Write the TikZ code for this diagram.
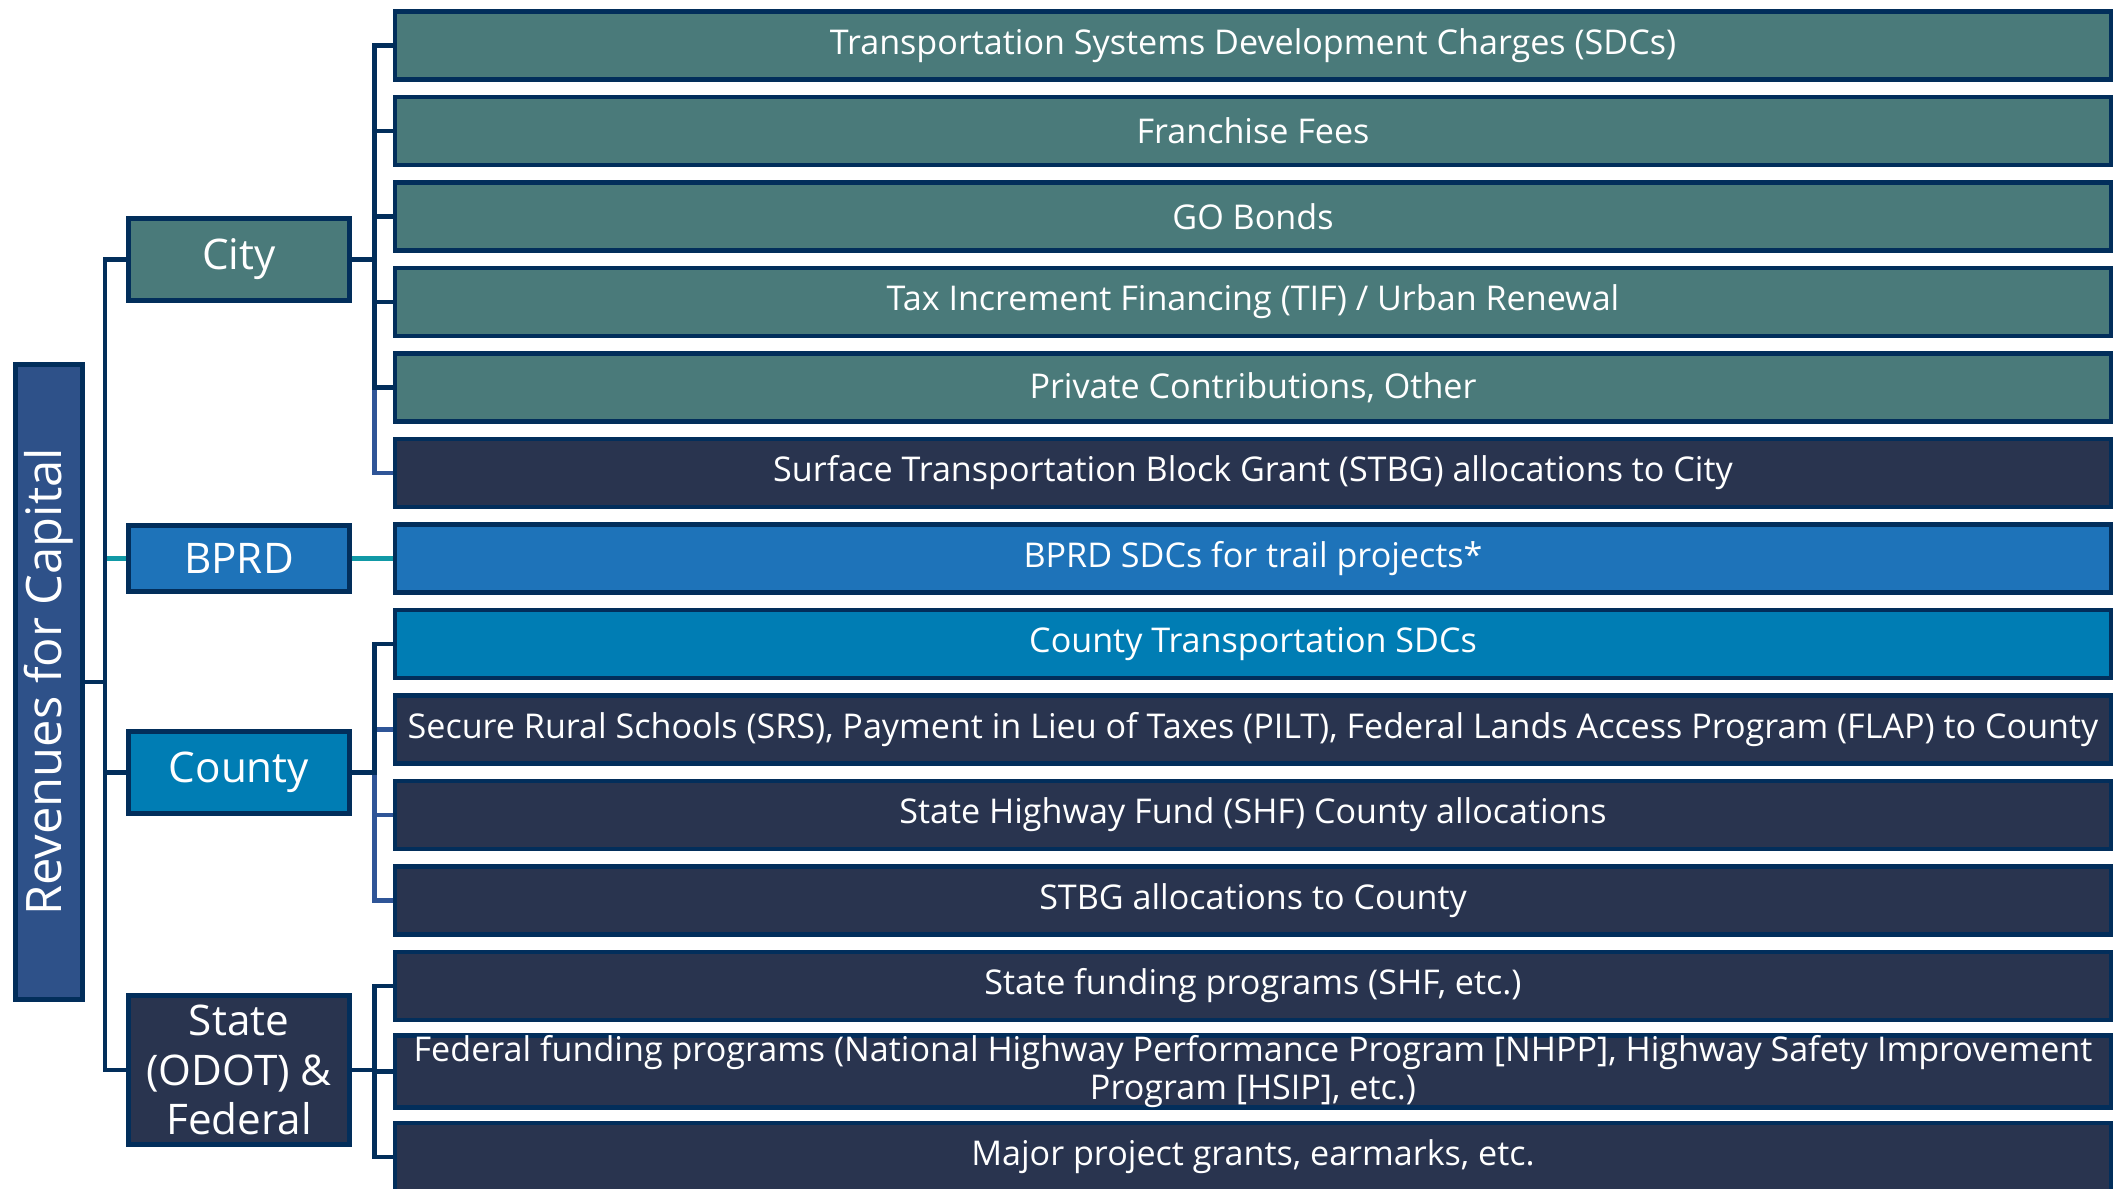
\documentclass[tikz,border=0pt]{standalone}
\usepackage{fontspec}
\setmainfont{Open Sans}
\usetikzlibrary{positioning}
\definecolor{navyline}{HTML}{022E5B}
\definecolor{tealfill}{HTML}{4A7A7A}
\definecolor{darkfill}{HTML}{29344F}
\definecolor{bprdfill}{HTML}{1E73B9}
\definecolor{countyfill}{HTML}{007DB4}
\definecolor{rootfill}{HTML}{2E5189}
\definecolor{lightline}{HTML}{2F5597}
\definecolor{tealline}{HTML}{1199A6}
\tikzset{
  box/.style={draw=navyline, line width=1.4pt, text=white, align=center, inner sep=0pt},
  srcbox/.style={box, minimum width=17.15cm, minimum height=0.68cm, font=\fontsize{9.7}{10.8}\selectfont},
  catbox/.style={box, minimum width=2.21cm, font=\fontsize{12}{14}\selectfont},
  link/.style={draw=navyline, line width=1.4pt},
  lightlink/.style={draw=lightline, line width=1.4pt},
  teallink/.style={draw=tealline, line width=1.4pt}
}
\begin{document}
\begin{tikzpicture}[x=0.01cm, y=-0.01cm]
  \useasboundingbox (0,0) rectangle (2113,1188);
  % Root and the four groups.
  \node[box, fill=rootfill, rotate=90, minimum width=6.35cm, minimum height=0.67cm, font=\fontsize{13.9}{16}\selectfont] (root) at (49,682) {Revenues for Capital};
  \node[catbox, fill=tealfill, minimum height=0.82cm] (city) at (239,259.5) {City};
  \node[catbox, fill=bprdfill, minimum height=0.66cm] (bprd) at (239,558.5) {BPRD};
  \node[catbox, fill=countyfill, minimum height=0.82cm] (county) at (239,772.5) {County};
  \node[catbox, fill=darkfill, minimum height=1.49cm] (state) at (239,1070) {State\\(ODOT) \&\\Federal};
  % Revenue sources, one row each.
  \node[srcbox, fill=tealfill] (r0) at (1253,45.5) {Transportation Systems Development Charges (SDCs)};
  \node[srcbox, fill=tealfill] (r1) at (1253,131) {Franchise Fees};
  \node[srcbox, fill=tealfill] (r2) at (1253,216.5) {GO Bonds};
  \node[srcbox, fill=tealfill] (r3) at (1253,302) {Tax Increment Financing (TIF) / Urban Renewal};
  \node[srcbox, fill=tealfill] (r4) at (1253,387.5) {Private Contributions, Other};
  \node[srcbox, fill=darkfill] (r5) at (1253,473) {Surface Transportation Block Grant (STBG) allocations to City};
  \node[srcbox, fill=bprdfill] (r6) at (1253,558.5) {BPRD SDCs for trail projects*};
  \node[srcbox, fill=countyfill] (r7) at (1253,644) {County Transportation SDCs};
  \node[srcbox, fill=darkfill] (r8) at (1253,729.5) {Secure Rural Schools (SRS), Payment in Lieu of Taxes (PILT), Federal Lands Access Program (FLAP) to County};
  \node[srcbox, fill=darkfill] (r9) at (1253,815) {State Highway Fund (SHF) County allocations};
  \node[srcbox, fill=darkfill] (r10) at (1253,900.5) {STBG allocations to County};
  \node[srcbox, fill=darkfill] (r11) at (1253,986) {State funding programs (SHF, etc.)};
  \node[srcbox, fill=darkfill] (r12) at (1253,1071.5) {Federal funding programs (National Highway Performance Program [NHPP], Highway Safety Improvement\\Program [HSIP], etc.)};
  \node[srcbox, fill=darkfill] (r13) at (1253,1157) {Major project grants, earmarks, etc.};
  % Trunk from the root to the groups.
  \coordinate (trunk) at (105,682);
  \draw[teallink] (bprd.west) -- (bprd.west -| trunk);
  \draw[link] (root.south) -- (trunk);
  \draw[link] (city.west) -| (trunk);
  \draw[link] (state.west) -| (trunk);
  \draw[link] (county.west) -- (county.west -| trunk);
  % Groups to their sources.
  \draw[lightlink] (city.east) -- ++(22.5,0) |- (r5.west);
  \foreach \j in {0,...,4}
    \draw[link] (city.east) -- ++(22.5,0) |- (r\j.west);
  \draw[teallink] (bprd.east) -- (r6.west);
  \foreach \j in {8,9,10}
    \draw[lightlink] (county.east) -- ++(22.5,0) |- (r\j.west);
  \draw[link] (county.east) -- ++(22.5,0) |- (r7.west);
  \foreach \j in {11,12,13}
    \draw[link] (state.east) -- ++(22.5,0) |- (r\j.west);
\end{tikzpicture}
\end{document}
